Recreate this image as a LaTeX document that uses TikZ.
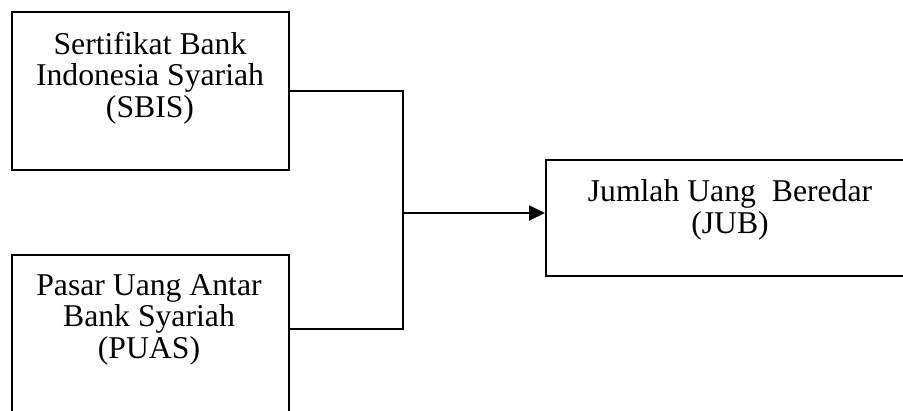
\documentclass[tikz,border=0pt]{standalone}
\usepackage{fontspec}
\setmainfont{Liberation Serif}
\usetikzlibrary{arrows.meta}
\begin{document}
\begin{tikzpicture}[x=1pt,y=-1pt,
  boxnode/.style={draw=black,line width=2pt,inner sep=0pt},
  lbl/.style={align=center,inner sep=0pt,anchor=base,font=\fontsize{31.7}{31.5}\selectfont},
  conn/.style={draw=black,line width=2pt}]
\useasboundingbox (0,0) rectangle (903,410);
\clip (0,0) rectangle (903,410);
\fill[white] (0,0) rectangle (903,410);
% boxes
\node[boxnode,minimum width=277pt,minimum height=158pt] (sbis) at (150.5,91) {};
\node[boxnode,minimum width=277pt,minimum height=170pt] (puas) at (150.5,340) {};
\node[boxnode,minimum width=369pt,minimum height=116pt] (jub) at (730.5,218) {};
% labels (base anchor = baseline of last line)
\node[lbl] (sbist) at (150,117) {Sertifikat Bank\\Indonesia Syariah\\(SBIS)};
\node[lbl] (puast) at (149,358) {Pasar Uang Antar\\Bank Syariah\\(PUAS)};
\node[lbl] (jubt) at (730,233) {Jumlah Uang\ \ Beredar\\(JUB)};
% connectors
\coordinate (j) at (403,213);
\coordinate (pe) at (289,329);
\draw[conn] (sbis.east) -| (j) |- (pe);
\draw[conn,-{Triangle[length=16pt,width=15pt]}] (j) -- (jub.west |- j);
\end{tikzpicture}
\end{document}
